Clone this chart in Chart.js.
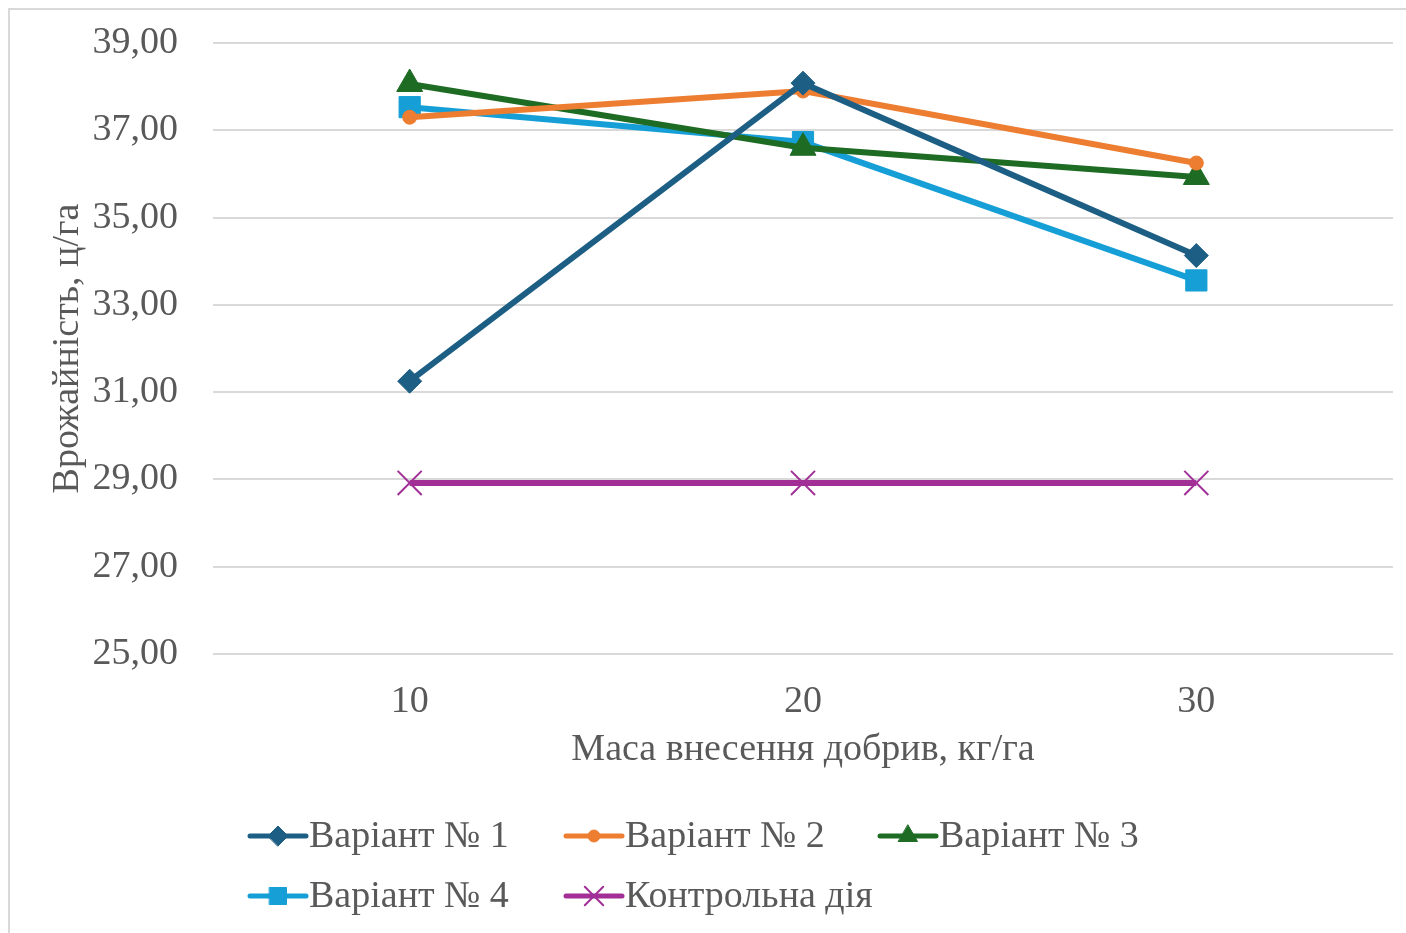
<!DOCTYPE html>
<html>
<head>
<meta charset="utf-8">
<script src="https://cdn.jsdelivr.net/npm/chart.js"></script>
<style>
  body { margin: 0; background: #fff; overflow: hidden; }
  #wrap { position: relative; width: 1406px; height: 933px; }
  #myChart { display: block; }
  #frame { position: absolute; left: 8px; top: 8px; width: 1500px; height: 1000px;
           border: 2px solid #d9d9d9; pointer-events: none; }
</style>
</head>
<body>
<div id="wrap">
  <canvas id="myChart" width="1406" height="933"></canvas>
  <div id="frame"></div>
</div>
<script>
// data
var doses = ["10", "20", "30"];
var variant1 = [31.25, 38.08, 34.13];
var variant2 = [37.30, 37.90, 36.25];
var variant3 = [38.06, 36.60, 35.93];
var variant4 = [37.53, 36.73, 33.56];
var control  = [28.92, 28.92, 28.92];
var seriesNames = ["Варіант № 1", "Варіант № 2", "Варіант № 3", "Варіант № 4", "Контрольна дія"];
var yTicks = [25, 27, 29, 31, 33, 35, 37, 39];

var fontFam = "'Liberation Serif', 'Times New Roman', serif";
var txtColor = "#595959";
var fSize = 38;

function makeSet(name, values, color, style, radius, bw) {
  return {
    label: name,
    data: values,
    borderColor: color,
    backgroundColor: color,
    borderWidth: 6,
    pointStyle: style,
    pointRadius: radius,
    pointHoverRadius: radius,
    pointBorderWidth: bw,
    pointBorderColor: color,
    pointBackgroundColor: color,
    tension: 0
  };
}

/*legend drawn by hand so that rows stay left aligned like the original*/
var legendPlugin = {
  id: 'manualLegend',
  afterDraw: function(chart) {
    var ctx = chart.ctx;
    var cols = [250, 566, 880];
    var rows = [836, 896];
    var sizes = [10, 6, 11, 12, 13];
    chart.data.datasets.forEach(function(ds, i) {
      var x = cols[i % 3], y = rows[Math.floor(i / 3)];
      ctx.save();
      ctx.strokeStyle = ds.borderColor;
      ctx.lineWidth = 5;
      ctx.lineCap = 'round';
      ctx.beginPath();
      ctx.moveTo(x, y);
      ctx.lineTo(x + 56, y);
      ctx.stroke();
      ctx.fillStyle = ds.backgroundColor;
      ctx.strokeStyle = ds.borderColor;
      ctx.lineWidth = ds.pointBorderWidth;
      Chart.helpers.drawPoint(ctx, {pointStyle: ds.pointStyle, radius: sizes[i], rotation: 0, borderWidth: ds.pointBorderWidth}, x + 28, y);
      ctx.fillStyle = txtColor;
      ctx.font = fSize + "px " + fontFam;
      ctx.textBaseline = 'middle';
      ctx.textAlign = 'left';
      ctx.fillText(ds.label, x + 59, y + 1);
      ctx.restore();
    });
  }
};

var ctx = document.getElementById('myChart').getContext('2d');
var myChart = new Chart(ctx, {
  type: 'line',
  data: {
    labels: doses,
    datasets: [
      makeSet(seriesNames[0], variant1, "#1d5f84", 'rectRot', 12, 1),
      makeSet(seriesNames[1], variant2, "#ed7d31", 'circle', 7, 1),
      makeSet(seriesNames[2], variant3, "#1e6b24", 'triangle', 15, 1),
      makeSet(seriesNames[3], variant4, "#169fd6", 'rect', 15, 1),
      makeSet(seriesNames[4], control, "#a12f96", 'crossRot', 17, 2)
    ]
  },
  plugins: [legendPlugin],
  options: {
    responsive: false,
    animation: false,
    layout: { autoPadding: false, padding: { left: 20, right: 13, top: 43, bottom: 150 } },
    plugins: {
      legend: { display: false },
      tooltip: { enabled: false }
    },
    scales: {
      x: {
        offset: true,
        grid: { display: false },
        border: { display: false },
        ticks: { color: txtColor, padding: 17, font: { family: fontFam, size: fSize } },
        title: {
          display: true,
          text: 'Маса внесення добрив, кг/га',
          color: txtColor,
          padding: { top: 0, bottom: 10 },
          font: { family: fontFam, size: fSize }
        },
        afterFit: function(scale) {
          scale.height = 129;
          scale.paddingLeft = 0;
          scale.paddingRight = 0;
        }
      },
      y: {
        min: 25,
        max: 39,
        grid: { color: "#d9d9d9", lineWidth: 2, drawTicks: false },
        border: { display: false },
        afterBuildTicks: function(scale) {
          scale.ticks = yTicks.map(function(v) { return { value: v }; });
        },
        ticks: {
          color: txtColor,
          padding: 35,
          font: { family: fontFam, size: fSize },
          callback: function(v) { return Number(v).toFixed(2).replace('.', ','); }
        },
        title: {
          display: true,
          text: 'Врожайність, ц/га',
          color: txtColor,
          padding: { top: 25, bottom: 0 },
          font: { family: fontFam, size: fSize }
        },
        afterFit: function(scale) {
          scale.width = 193;
          scale.paddingTop = 0;
          scale.paddingBottom = 0;
        }
      }
    }
  }
});
</script>
</body>
</html>
